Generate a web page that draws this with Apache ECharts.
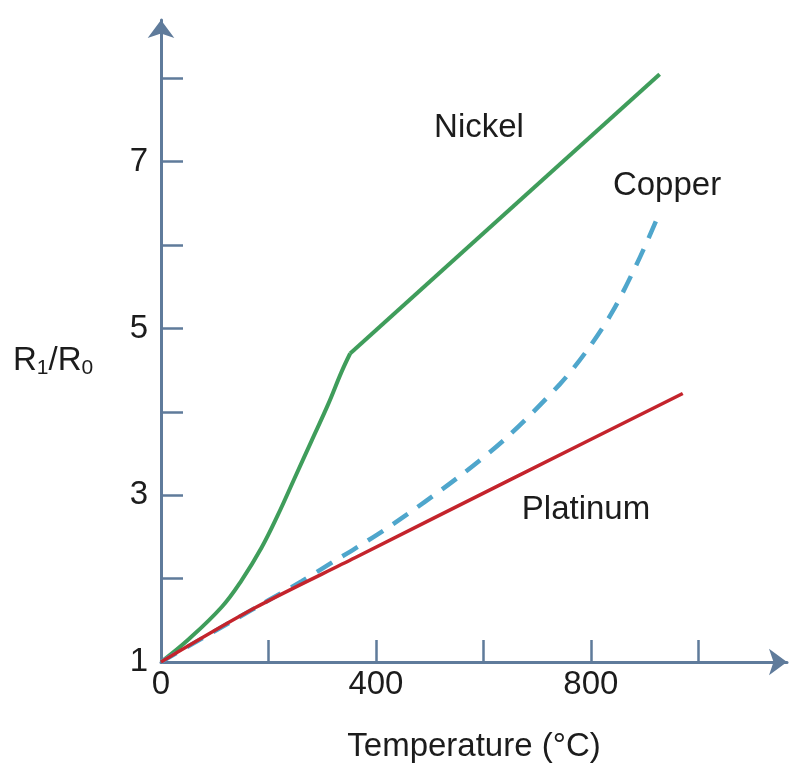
<!DOCTYPE html>
<html>
<head>
<meta charset="utf-8">
<script src="https://cdn.jsdelivr.net/npm/echarts@6/dist/echarts.min.js"></script>
<style>
  html, body { margin: 0; padding: 0; background: #fff; }
  #chart { width: 798px; height: 768px; }
</style>
</head>
<body>
<div id="chart"></div>
<script>
// temperature (°C) vs R1/R0
const nickelCurve = [[0, 1], [51, 1.27], [113, 1.66], [150, 1.98], [187, 2.37], [218, 2.77], [249, 3.21], [280, 3.65], [311, 4.09], [336, 4.48], [352, 4.7]];
const nickelLine = [[352, 4.7], [928, 8.05]];
const copper = [[0, 1], [138, 1.51], [200, 1.74], [262, 1.97], [320, 2.2], [361, 2.36], [431, 2.65], [550, 3.2], [643, 3.69], [742, 4.33], [792, 4.73], [841, 5.21], [891, 5.85], [928, 6.39]];
const platinum = [[0, 1], [175, 1.65], [361, 2.25], [654, 3.2], [971, 4.22]];

const xTicks = [200, 400, 600, 800, 1000];
const xLabels = [0, 400, 800];
const yTicks = [2, 3, 4, 5, 6, 7, 8];
const yLabels = [1, 3, 5, 7];

const axisColor = "#5f7b9b";
const textColor = "#1c1c1c";
const font = "'Liberation Sans', Arial, sans-serif";

const chart = echarts.init(document.getElementById("chart"));

const axisLine = {
  show: true,
  symbol: ["none", "arrow"],
  symbolSize: [20, 18],
  lineStyle: { color: axisColor, width: 3 },
};
const axisTick = {
  show: true,
  inside: true,
  length: 22,
  lineStyle: { color: axisColor, width: 2.5 },
};

const option = {
  animation: false,
  backgroundColor: "#fff",
  grid: { left: 161, right: 11, top: 20, bottom: 105 },
  xAxis: {
    type: "value",
    min: 0,
    max: 1165,
    axisLine: axisLine,
    axisTick: Object.assign({ customValues: xTicks }, axisTick),
    axisLabel: {
      customValues: xLabels,
      margin: 6,
      fontSize: 33,
      fontFamily: font,
      color: textColor,
    },
    splitLine: { show: false },
    name: "Temperature (°C)",
    nameLocation: "middle",
    nameGap: 68,
    nameTextStyle: { fontSize: 33, fontFamily: font, color: textColor },
  },
  yAxis: {
    type: "value",
    min: 1,
    max: 8.7,
    axisLine: axisLine,
    axisTick: Object.assign({ customValues: yTicks }, axisTick),
    axisLabel: {
      customValues: yLabels,
      margin: 13,
      fontSize: 33,
      fontFamily: font,
      color: textColor,
    },
    splitLine: { show: false },
  },
  graphic: [
    {
      type: "text",
      left: 13,
      top: 344,
      style: {
        text: "{r|R}{s|1}{r|/R}{s|0}",
        fill: textColor,
        rich: {
          r: { fontSize: 33, fontFamily: font, lineHeight: 36, verticalAlign: "middle" },
          s: { fontSize: 21, fontFamily: font, lineHeight: 36, verticalAlign: "bottom", padding: [14, 0, 0, 0] },
        },
      },
    },
    {
      type: "text",
      x: 479, y: 128,
      style: { text: "Nickel", fontSize: 33, fontFamily: font, fill: textColor, align: "center", verticalAlign: "middle" },
    },
    {
      type: "text",
      x: 667, y: 186,
      style: { text: "Copper", fontSize: 33, fontFamily: font, fill: textColor, align: "center", verticalAlign: "middle" },
    },
    {
      type: "text",
      x: 586, y: 510,
      style: { text: "Platinum", fontSize: 33, fontFamily: font, fill: textColor, align: "center", verticalAlign: "middle" },
    },
  ],
  series: [
    {
      name: "Nickel",
      type: "line",
      data: nickelCurve,
      smooth: 0.4,
      showSymbol: false,
      lineStyle: { color: "#3f9d5b", width: 4 },
    },
    {
      name: "Nickel",
      type: "line",
      data: nickelLine,
      showSymbol: false,
      lineStyle: { color: "#3f9d5b", width: 4 },
    },
    {
      name: "Copper",
      type: "line",
      data: copper,
      smooth: 0.3,
      showSymbol: false,
      lineStyle: { color: "#4fa6cc", width: 4.5, type: [18, 12] },
    },
    {
      name: "Platinum",
      type: "line",
      data: platinum,
      smooth: 0.3,
      showSymbol: false,
      lineStyle: { color: "#c4242c", width: 3.5 },
    },
  ],
};

chart.setOption(option);
</script>
</body>
</html>
